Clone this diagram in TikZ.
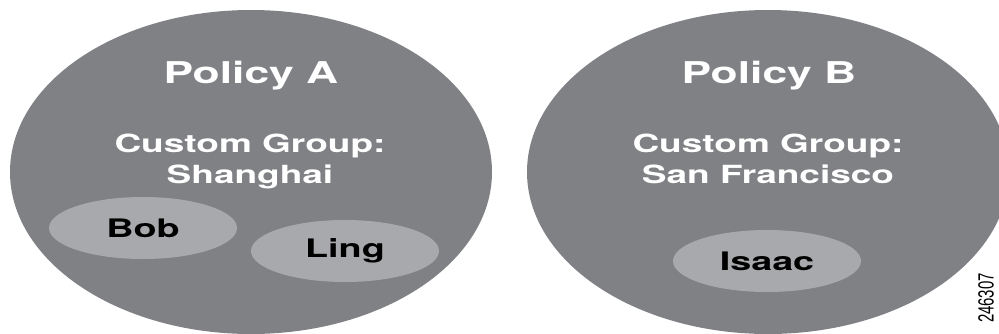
\documentclass[tikz,border=0pt]{standalone}
\usepackage{fontspec}
\usetikzlibrary{shapes.geometric}
\newfontfamily\heros[FakeStretch=1.48]{TeX Gyre Heros}
\newfontfamily\narrowfig[FakeStretch=0.68]{Liberation Sans}
\definecolor{polGray}{HTML}{808185}
\definecolor{memGray}{HTML}{A8A9AC}
\tikzset{
 policy/.style={ellipse,fill=polGray,inner sep=0pt,minimum width=482pt,minimum height=324pt},
 member/.style={ellipse,fill=memGray,inner sep=0pt,minimum width=188pt,minimum height=62pt,
   text=black,font=\heros\bfseries\fontsize{25.5}{30}\selectfont},
 title/.style={anchor=base,text=white,font=\heros\bfseries\fontsize{30}{36}\selectfont},
 group/.style={anchor=base,align=center,text=white,font=\heros\bfseries\fontsize{25}{31}\selectfont}
}

\begin{document}
\begin{tikzpicture}[x=1pt,y=-1pt]
 \useasboundingbox (0,0) rectangle (999,333);
 \clip (0,0) rectangle (999,333);
 % the two policies
 \node[policy] (polA) at (251,172) {};
 \node[policy] (polB) at (768,172) {};
 \node[title] (titleA) at (251,83) {Policy A};
 \node[title] (titleB) at (769,83) {Policy B};
 % base anchor sits on the last line
 \node[group] (grpA) at (250,183) {Custom Group:\\Shanghai};
 \node[group] (grpB) at (768,183) {Custom Group:\\San Francisco};
 % members of each group
 \node[member] (bob) at (143,228) {Bob};
 \node[member] (ling) at (345,251) {Ling};
 \node[member] (isaac) at (767,261) {Isaac};
 \node[rotate=90,font=\narrowfig\fontsize{22}{24}\selectfont] (fignum) at (986,298) {246307};
\end{tikzpicture}
\end{document}
